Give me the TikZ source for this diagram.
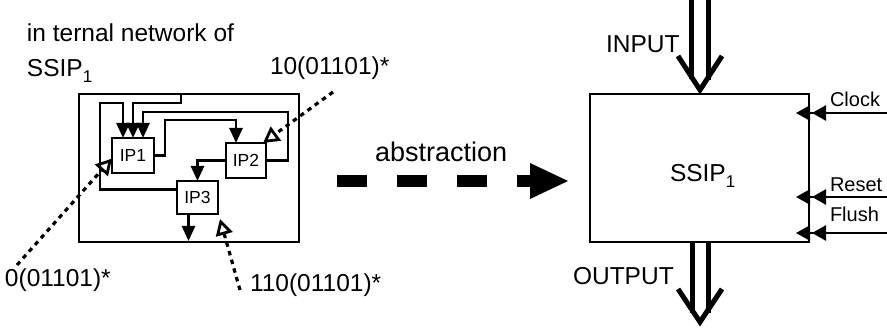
\documentclass[tikz,border=0pt]{standalone}
\usepackage{fontspec}
\setmainfont{Liberation Sans}
\usetikzlibrary{arrows.meta}
\newcommand\subidx[1]{\raisebox{-6pt}{\fontsize{17}{17}\selectfont #1}}
\begin{document}
\begin{tikzpicture}[x=1pt,y=-1pt,
  every node/.style={inner sep=0pt,outer sep=0pt},
  txt/.style={anchor=base west,font=\fontsize{24.5}{28}\selectfont},
  smalltxt/.style={anchor=base west,font=\fontsize{20}{24}\selectfont},
  blk/.style={draw,line width=2.8pt},
  ipbox/.style={draw,line width=2.8pt,font=\fontsize{17.5}{20}\selectfont},
  wire/.style={line width=2.6pt,line join=miter,-{Triangle[length=15pt,width=13pt]}},
  dots/.style={line width=3.2pt,dash pattern=on 4.5pt off 4.5pt,-{Triangle[open,length=16pt,width=17pt,line width=2.8pt]}},
  ctl/.style={line width=2.6pt,-{Triangle[length=14pt,width=15pt,sep=2pt]Triangle[length=14pt,width=15pt]}},
  fat/.style={line width=5pt},
  vhead/.style={line width=5pt,line join=miter}]
\path[use as bounding box] (0,0) rectangle (887,328);

% left: internal network
\node[blk,minimum width=220pt,minimum height=148pt] (net) at (189,168) {};
\node[ipbox,minimum width=42pt,minimum height=35pt] (ip1) at (133,155.5) {IP1};
\node[ipbox,minimum width=40pt,minimum height=35pt] (ip2) at (246,160.5) {IP2};
\node[ipbox,minimum width=41pt,minimum height=33pt] (ip3) at (197.5,197.5) {IP3};

\draw[wire] (181,94) -- (181,103) -- (133,103) -- (ip1.north);
\draw[wire] ([yshift=8pt]ip3.west) -- (100,189.5) -- (100,103) -- (123,103) -- ([xshift=-10pt]ip1.north);
\draw[wire] (ip2.east) -- (288,160.5) -- (288,112) -- (143,112) -- ([xshift=10pt]ip1.north);
\draw[wire] (ip1.east) -- (165,155.5) -- (165,120) -- (236,120) -- ([xshift=-10pt]ip2.north);
\draw[wire] (ip2.west) -| (ip3.north);
\draw[wire] ([xshift=-9pt]ip3.south) -- (188.5,241);

% labels left
\node[txt] (lbl1) at (27,42) {in ternal network of};
\node[txt] (lbl2) at (27,77) {SSIP\subidx{1}};
\node[txt] (l10) at (270,75) {10(01101)*};
\node[txt] (l0) at (5,287) {0(01101)*};
\node[txt] (l110) at (250,292) {110(01101)*};

\coordinate (s10) at (333,92);
\coordinate (s0) at (17,265);
\coordinate (s110) at (240,290);
\draw[dots] (s10) -- ([xshift=-3pt]ip2.north east);
\draw[dots] (s0) -- ([yshift=-3pt]ip1.west);
\draw[dots] (s110) -- ([shift={(2pt,-5pt)}]ip3.south east);

% abstraction arrow
\node[txt,font=\fontsize{27}{30}\selectfont] (abs) at (375,162) {abstraction};
\coordinate (a0) at (337,181);
\coordinate (a1) at (530,181);
\draw[line width=12pt,dash pattern=on 30pt off 30pt] (a0) -- (a1);
\fill (530,163) -- (568,181) -- (530,199) -- cycle;

% right: SSIP box
\node[blk,minimum width=219pt,minimum height=148pt] (ssip) at (699.5,168) {};
\node[txt] (sname) at (670,182) {SSIP\subidx{1}};

% INPUT
\node[txt] (inp) at (606,53) {INPUT};
\draw[fat] (691,0) -- (691,79);
\draw[fat] (708,0) -- (708,80);
\draw[vhead] (678,56) -- (700,90) -- (722,56);

% OUTPUT
\node[txt] (outp) at (573,285) {OUTPUT};
\draw[fat] (692,242) -- (692,313);
\draw[fat] (708,242) -- (708,313);
\draw[vhead] (678,289) -- (700,322) -- (722,289);

% control inputs
\node[smalltxt] (clk) at (830,107) {Clock};
\node[smalltxt] (rst) at (830,192) {Reset};
\node[smalltxt] (fls) at (830,222) {Flush};
\coordinate (cclk) at (887,113);
\coordinate (crst) at (887,197);
\coordinate (cfls) at (887,233);
\draw[ctl] (cclk) -- ([xshift=-13pt]cclk -| ssip.east);
\draw[ctl] (crst) -- ([xshift=-13pt]crst -| ssip.east);
\draw[ctl] (cfls) -- ([xshift=-13pt]cfls -| ssip.east);
\end{tikzpicture}
\end{document}
